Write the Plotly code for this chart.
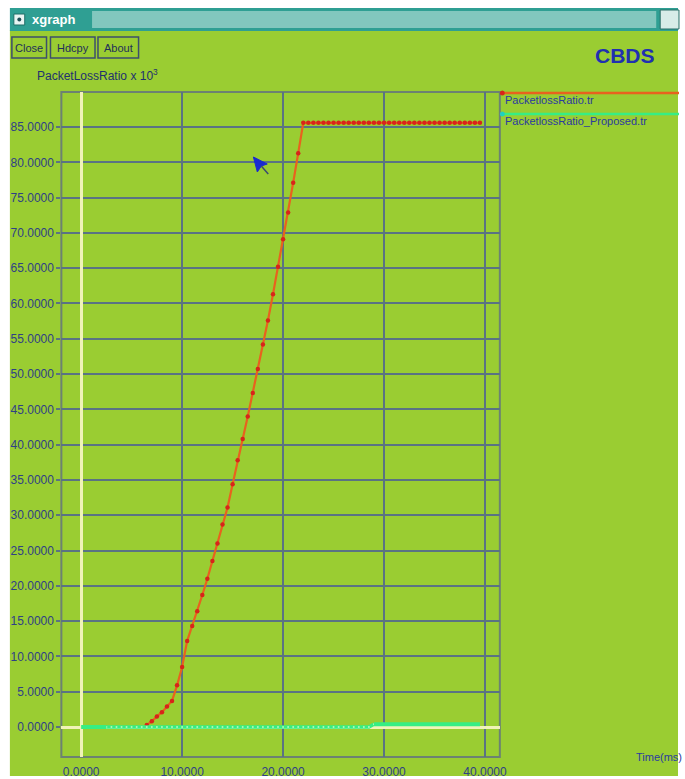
import plotly.graph_objects as go

W, H = 685, 779


def X(px):
    return px / W


def Y(py):
    return 1 - py / H


# ---------------- data ----------------
red_x = [6.5, 7.0, 7.5, 8.0, 8.5, 9.0, 9.5, 10.0, 10.5, 11.0, 11.5, 12.0, 12.5, 13.0,
         13.5, 14.0, 14.5, 15.0, 15.5, 16.0, 16.5, 17.0, 17.5, 18.0, 18.5, 19.0, 19.5,
         20.0, 20.5, 21.0, 21.5, 22.0, 22.5, 23.0, 23.5, 24.0, 24.5, 25.0, 25.5, 26.0,
         26.5, 27.0, 27.5, 28.0, 28.5, 29.0, 29.5, 30.0, 30.5, 31.0, 31.5, 32.0, 32.5,
         33.0, 33.5, 34.0, 34.5, 35.0, 35.5, 36.0, 36.5, 37.0, 37.5, 38.0, 38.5, 39.0, 39.5]
red_y = [0.3, 0.8, 1.5, 2.1, 2.9, 3.7, 5.9, 8.5, 12.2, 14.3, 16.4, 18.7, 21.0, 23.5,
         26.0, 28.7, 31.1, 34.4, 37.8, 40.8, 44.0, 47.3, 50.7, 54.2, 57.6, 61.3, 65.2,
         69.1, 72.9, 77.1, 81.3, 85.6, 85.6, 85.6, 85.6, 85.6, 85.6, 85.6, 85.6, 85.6,
         85.6, 85.6, 85.6, 85.6, 85.6, 85.6, 85.6, 85.6, 85.6, 85.6, 85.6, 85.6, 85.6,
         85.6, 85.6, 85.6, 85.6, 85.6, 85.6, 85.6, 85.6, 85.6, 85.6, 85.6, 85.6, 85.6, 85.6]

green_x = [0.0, 0.5, 1.0, 1.5, 2.0, 2.5, 3.0, 3.5, 4.0, 4.5, 5.0, 5.5, 6.0, 6.5, 7.0,
           7.5, 8.0, 8.5, 9.0, 9.5, 10.0, 10.5, 11.0, 11.5, 12.0, 12.5, 13.0, 13.5,
           14.0, 14.5, 15.0, 15.5, 16.0, 16.5, 17.0, 17.5, 18.0, 18.5, 19.0, 19.5,
           20.0, 20.5, 21.0, 21.5, 22.0, 22.5, 23.0, 23.5, 24.0, 24.5, 25.0, 25.5,
           26.0, 26.5, 27.0, 27.5, 28.0, 28.5, 29.0, 29.5, 30.0, 30.5, 31.0, 31.5,
           32.0, 32.5, 33.0, 33.5, 34.0, 34.5, 35.0, 35.5, 36.0, 36.5, 37.0, 37.5,
           38.0, 38.5, 39.0, 39.5]
green_y = [0.0, 0.0, 0.0, 0.0, 0.0, 0.0, 0.0, 0.0, 0.0, 0.0, 0.0, 0.0, 0.0, 0.0, 0.0,
           0.0, 0.0, 0.0, 0.0, 0.0, 0.0, 0.0, 0.0, 0.0, 0.0, 0.0, 0.0, 0.0,
           0.0, 0.0, 0.0, 0.0, 0.0, 0.0, 0.0, 0.0, 0.0, 0.0, 0.0, 0.0,
           0.0, 0.0, 0.0, 0.0, 0.0, 0.0, 0.0, 0.0, 0.0, 0.0, 0.0, 0.0,
           0.0, 0.0, 0.0, 0.0, 0.0, 0.0, 0.4, 0.4, 0.4, 0.4, 0.4, 0.4,
           0.4, 0.4, 0.4, 0.4, 0.4, 0.4, 0.4, 0.4, 0.4, 0.4, 0.4, 0.4,
           0.4, 0.4, 0.4, 0.4]

x_ticks = [0, 10, 20, 30, 40]
y_ticks = [0, 5, 10, 15, 20, 25, 30, 35, 40, 45, 50, 55, 60, 65, 70, 75, 80, 85]

series_names = ["PacketlossRatio.tr", "PacketlossRatio_Proposed.tr"]

# ---------------- styles ----------------
BG = "#9acd32"
GRID = "#5a7383"
FRAME = "#6c8272"
NAVY = "#2f3f86"
GREEN = "#36ee84"
FONT = "Liberation Sans Narrow, Liberation Sans, Arial"

fig = go.Figure()
fig.add_trace(go.Scatter(x=red_x, y=red_y, mode="lines+markers",
                         line=dict(color="#e8621e", width=2.2),
                         marker=dict(size=4.5, color="#d8241a"),
                         showlegend=False))
# proposed series: solid start, dotted-looking middle, solid end
fig.add_trace(go.Scatter(x=green_x[5:59], y=green_y[5:59], mode="lines+markers",
                         line=dict(color=GREEN, width=3.5),
                         marker=dict(size=2, color="#b8f5b8"),
                         showlegend=False))
fig.add_trace(go.Scatter(x=green_x[:6], y=green_y[:6], mode="lines",
                         line=dict(color=GREEN, width=4),
                         showlegend=False))
fig.add_trace(go.Scatter(x=green_x[58:], y=green_y[58:], mode="lines",
                         line=dict(color=GREEN, width=4),
                         showlegend=False))

shapes = []
# window body
shapes.append(dict(type="rect", xref="paper", yref="paper", x0=X(10), x1=X(685),
                   y0=Y(776), y1=Y(30), fillcolor=BG, line=dict(width=0), layer="below"))
# title bar
shapes.append(dict(type="rect", xref="paper", yref="paper", x0=X(10), x1=X(685),
                   y0=Y(31), y1=Y(8), fillcolor="#2f9f93", line=dict(width=0), layer="below"))
shapes.append(dict(type="rect", xref="paper", yref="paper", x0=X(93), x1=X(663),
                   y0=Y(28), y1=Y(11), fillcolor="#82c7be", line=dict(width=0), layer="below"))
shapes.append(dict(type="rect", xref="paper", yref="paper", x0=X(14), x1=X(25),
                   y0=Y(25), y1=Y(14), fillcolor="#e8f4f2", line=dict(color="#1f6f68", width=1), layer="below"))
shapes.append(dict(type="circle", xref="paper", yref="paper", x0=X(17.5), x1=X(21.5),
                   y0=Y(21.5), y1=Y(17.5), fillcolor="#1f4f58", line=dict(width=0), layer="below"))
shapes.append(dict(type="rect", xref="paper", yref="paper", x0=X(667), x1=X(686),
                   y0=Y(29), y1=Y(10), fillcolor="#d8ece8", line=dict(color="#2a6f68", width=1), layer="below"))
# buttons
for x0, x1 in [(12, 47), (51, 96), (99, 140)]:
    shapes.append(dict(type="rect", xref="paper", yref="paper", x0=X(x0), x1=X(x1),
                       y0=Y(58), y1=Y(37), fillcolor="rgba(0,0,0,0)",
                       line=dict(color="#3d4f6c", width=1.5), layer="below"))
# plot frame
shapes.append(dict(type="rect", xref="paper", yref="paper", x0=X(62), x1=X(505),
                   y0=Y(757), y1=Y(92), fillcolor="rgba(0,0,0,0)",
                   line=dict(color=FRAME, width=2), layer="below"))
# legend lines
shapes.append(dict(type="line", xref="paper", yref="paper", x0=X(507), x1=X(686),
                   y0=Y(93), y1=Y(93), line=dict(color="#e8621e", width=2.5)))
shapes.append(dict(type="circle", xref="paper", yref="paper", x0=X(505), x1=X(510),
                   y0=Y(95.5), y1=Y(90.5), fillcolor="#d8241a", line=dict(width=0)))
shapes.append(dict(type="line", xref="paper", yref="paper", x0=X(507), x1=X(686),
                   y0=Y(114), y1=Y(114), line=dict(color=GREEN, width=2.5)))
shapes.append(dict(type="circle", xref="paper", yref="paper", x0=X(505), x1=X(510),
                   y0=Y(116.5), y1=Y(111.5), fillcolor="#20d0c0", line=dict(width=0)))
# mouse cursor
shapes.append(dict(type="path", xref="paper", yref="paper",
                   path=f"M {X(256)},{Y(157)} L {X(260)},{Y(172)} L {X(264)},{Y(166)} L {X(270)},{Y(164)} Z",
                   fillcolor="#1a2ad0", line=dict(color="#1a2ad0", width=1)))
shapes.append(dict(type="line", xref="paper", yref="paper", x0=X(264), x1=X(271),
                   y0=Y(166), y1=Y(174), line=dict(color="#3a4a70", width=1.5)))

ann = []
ann.append(dict(text="<b>xgraph</b>", x=X(30), y=Y(19), xref="paper", yref="paper",
                xanchor="left", yanchor="middle", showarrow=False,
                font=dict(family="Liberation Sans, Arial", size=13, color="white")))
for cx, label in [(29.5, "Close"), (73.5, "Hdcpy"), (119.5, "About")]:
    ann.append(dict(text=label, x=X(cx), y=Y(47.5), xref="paper", yref="paper",
                    xanchor="center", yanchor="middle", showarrow=False,
                    font=dict(family=FONT, size=11, color="#1f2f5a")))
ann.append(dict(text="<b>CBDS</b>", x=X(631), y=Y(55), xref="paper", yref="paper",
                xanchor="center", yanchor="middle", showarrow=False,
                font=dict(family="Liberation Sans, Arial", size=21, color="#2030b0")))
ann.append(dict(text="PacketLossRatio x 10<sup>3</sup>", x=X(35), y=Y(75), xref="paper", yref="paper",
                xanchor="left", yanchor="middle", showarrow=False,
                font=dict(family=FONT, size=12, color="#22316e")))
ann.append(dict(text=series_names[0], x=X(508), y=Y(100), xref="paper", yref="paper",
                xanchor="left", yanchor="middle", showarrow=False,
                font=dict(family=FONT, size=11, color="#2a3aa0")))
ann.append(dict(text=series_names[1], x=X(508), y=Y(121), xref="paper", yref="paper",
                xanchor="left", yanchor="middle", showarrow=False,
                font=dict(family=FONT, size=11, color="#2a3aa0")))
ann.append(dict(text="Time(ms)", x=X(641), y=Y(757), xref="paper", yref="paper",
                xanchor="left", yanchor="middle", showarrow=False,
                font=dict(family=FONT, size=11, color="#2a3aa0")))

fig.update_layout(
    width=W, height=H,
    margin=dict(l=0, r=0, t=0, b=0),
    paper_bgcolor="white",
    plot_bgcolor="rgba(0,0,0,0)",
    shapes=shapes,
    annotations=ann,
    showlegend=False,
    xaxis=dict(domain=[X(62), X(505)], range=[-1.96, 41.47],
               tickvals=x_ticks, tickformat=".4f",
               showgrid=True, gridcolor=GRID, gridwidth=1.5,
               zeroline=True, zerolinecolor="#f0f3b8", zerolinewidth=2.5,
               ticks="outside", ticklen=4, tickcolor="rgba(0,0,0,0)",
               showline=False,
               tickfont=dict(family=FONT, size=12, color=NAVY)),
    yaxis=dict(domain=[Y(757), Y(92)], range=[-4.25, 89.96],
               tickvals=y_ticks, tickformat=".4f",
               showgrid=True, gridcolor=GRID, gridwidth=1.5,
               zeroline=True, zerolinecolor="#f0f3b8", zerolinewidth=2.5,
               ticks="outside", ticklen=4, tickcolor=GRID, tickwidth=1.5,
               showline=False,
               tickfont=dict(family=FONT, size=12, color=NAVY)),
)

fig.write_html("out.html")
